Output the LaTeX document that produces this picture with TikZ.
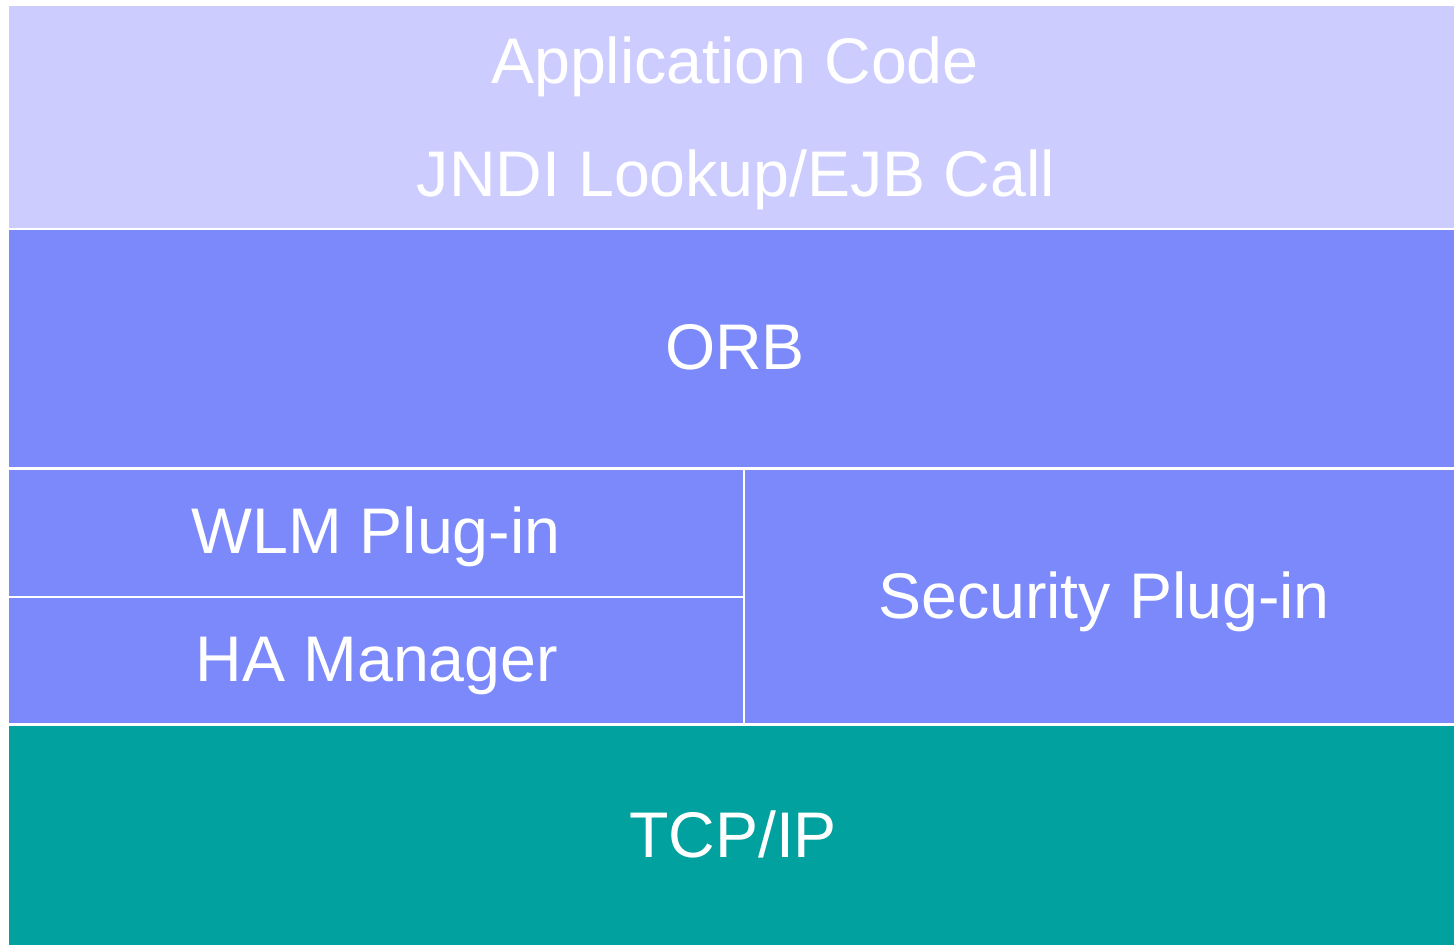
\documentclass[tikz,border=0pt]{standalone}
\usepackage{fontspec}
\setmainfont{Liberation Sans}
\definecolor{cTop}{HTML}{CCCCFF}
\definecolor{cMid}{HTML}{7B89FB}
\definecolor{cNet}{HTML}{00A19F}
\begin{document}
\begin{tikzpicture}[x=1pt,y=-1pt,
  lbl/.style={anchor=base,text=white,font=\fontsize{64.5}{70}\selectfont,inner sep=0pt}]
\useasboundingbox[fill=white] (0,0) rectangle (1454,945);
\fill[cTop] (9,6) rectangle (1454,227.5);
\fill[cMid] (9,230) rectangle (1454,467);
\fill[cMid] (9,469.5) rectangle (742.5,595.5);
\fill[cMid] (9,598) rectangle (742.5,723);
\fill[cMid] (745,469.5) rectangle (1454,723);
\fill[cNet] (9,725.5) rectangle (1454,945);
\node[lbl] (app) at (735,83) {Application Code};
\node[lbl] (jndi) at (736,196) {JNDI Lookup/EJB Call};
\node[lbl] (orb) at (735,369) {ORB};
\node[lbl] (wlm) at (376,553) {WLM Plug-in};
\node[lbl] (ha) at (377,681) {HA Manager};
\node[lbl] (sec) at (1104,618) {Security Plug-in};
\node[lbl] (tcp) at (733,857) {TCP/IP};
\end{tikzpicture}
\end{document}
